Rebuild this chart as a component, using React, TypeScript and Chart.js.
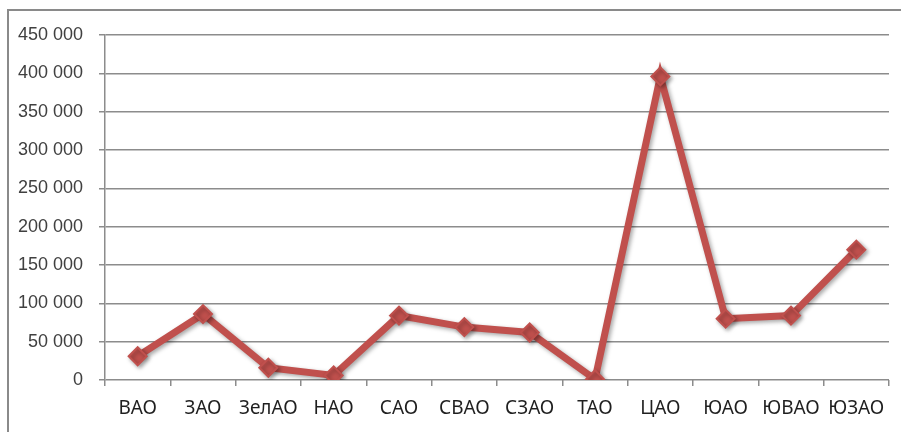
import React, { useEffect, useRef } from "react";
import { Chart, registerables } from "chart.js";

Chart.register(...registerables);

const categories = ["ВАО", "ЗАО", "ЗелАО", "НАО", "САО", "СВАО", "СЗАО", "ТАО", "ЦАО", "ЮАО", "ЮВАО", "ЮЗАО"];
const values = [31000, 86000, 16000, 6000, 84000, 69000, 62000, 1000, 396000, 80000, 84000, 170000];
const yMin = 0;
const yMax = 450000;
const yStep = 50000;

const shadowPlugin = {
  id: "lineShadow",
  beforeDatasetsDraw(chart: any) {
    const ctx = chart.ctx;
    ctx.save();
    ctx.shadowColor = "rgba(0,0,0,0.35)";
    ctx.shadowBlur = 4;
    ctx.shadowOffsetX = 2;
    ctx.shadowOffsetY = 2;
  },
  afterDatasetsDraw(chart: any) {
    chart.ctx.restore();
  },
};

function fmt(v: number) {
  return String(v).replace(/\B(?=(\d{3})+(?!\d))/g, " ");
}

export default function App() {
  const ref = useRef<HTMLCanvasElement>(null);
  useEffect(() => {
    if (!ref.current) return;
    const chart = new Chart(ref.current, {
      type: "line",
      data: {
        labels: categories,
        datasets: [
          {
            data: values,
            borderColor: "#C0504D",
            backgroundColor: "#C0504D",
            borderWidth: 7,
            pointStyle: "rectRot",
            pointRadius: 9,
            pointBorderWidth: 2,
            pointBackgroundColor: "#C0504D",
            pointBorderColor: "#C0504D",
            tension: 0,
            borderJoinStyle: "miter",
          },
        ],
      },
      options: {
        animation: false,
        responsive: false,
        devicePixelRatio: 1,
        layout: { padding: { left: 0, top: 35, right: 12, bottom: 0 } },
        plugins: { legend: { display: false }, tooltip: { enabled: false } },
        scales: {
          x: {
            offset: true,
            grid: {
              offset: true,
              drawOnChartArea: false,
              drawTicks: true,
              tickLength: 6,
              color: "#8c8c8c",
              lineWidth: 1.5,
            },
            border: { display: false },
            ticks: {
              autoSkip: false,
              maxRotation: 0,
              padding: 11,
              color: "#1f1f1f",
              font: { family: "'Noto Sans', sans-serif", size: 19 },
            },
            afterFit: (s: any) => {
              s.height = 52;
            },
          },
          y: {
            min: yMin,
            max: yMax,
            ticks: {
              stepSize: yStep,
              padding: 16,
              color: "#404040",
              font: { family: "'Liberation Sans', sans-serif", size: 18 },
              callback: (v: any) => fmt(Number(v)),
            },
            grid: { color: "#8c8c8c", lineWidth: 1.5, tickLength: 6 },
            border: { display: true, color: "#8c8c8c", width: 1.5 },
            afterFit: (s: any) => {
              s.width = 105;
            },
          },
        },
      },
      plugins: [shadowPlugin],
    } as any);
    return () => chart.destroy();
  }, []);
  return (
    <div style={{ position: "fixed", left: 0, top: 0, width: 901, height: 432, overflow: "hidden", background: "#fff" }}>
      <div
        style={{
          position: "absolute",
          left: 7,
          top: 9,
          width: 1000,
          height: 1000,
          border: "2px solid #8a8a8a",
        }}
      />
      <canvas ref={ref} width={901} height={432} style={{ position: "absolute", left: 0, top: 0 }} />
    </div>
  );
}
